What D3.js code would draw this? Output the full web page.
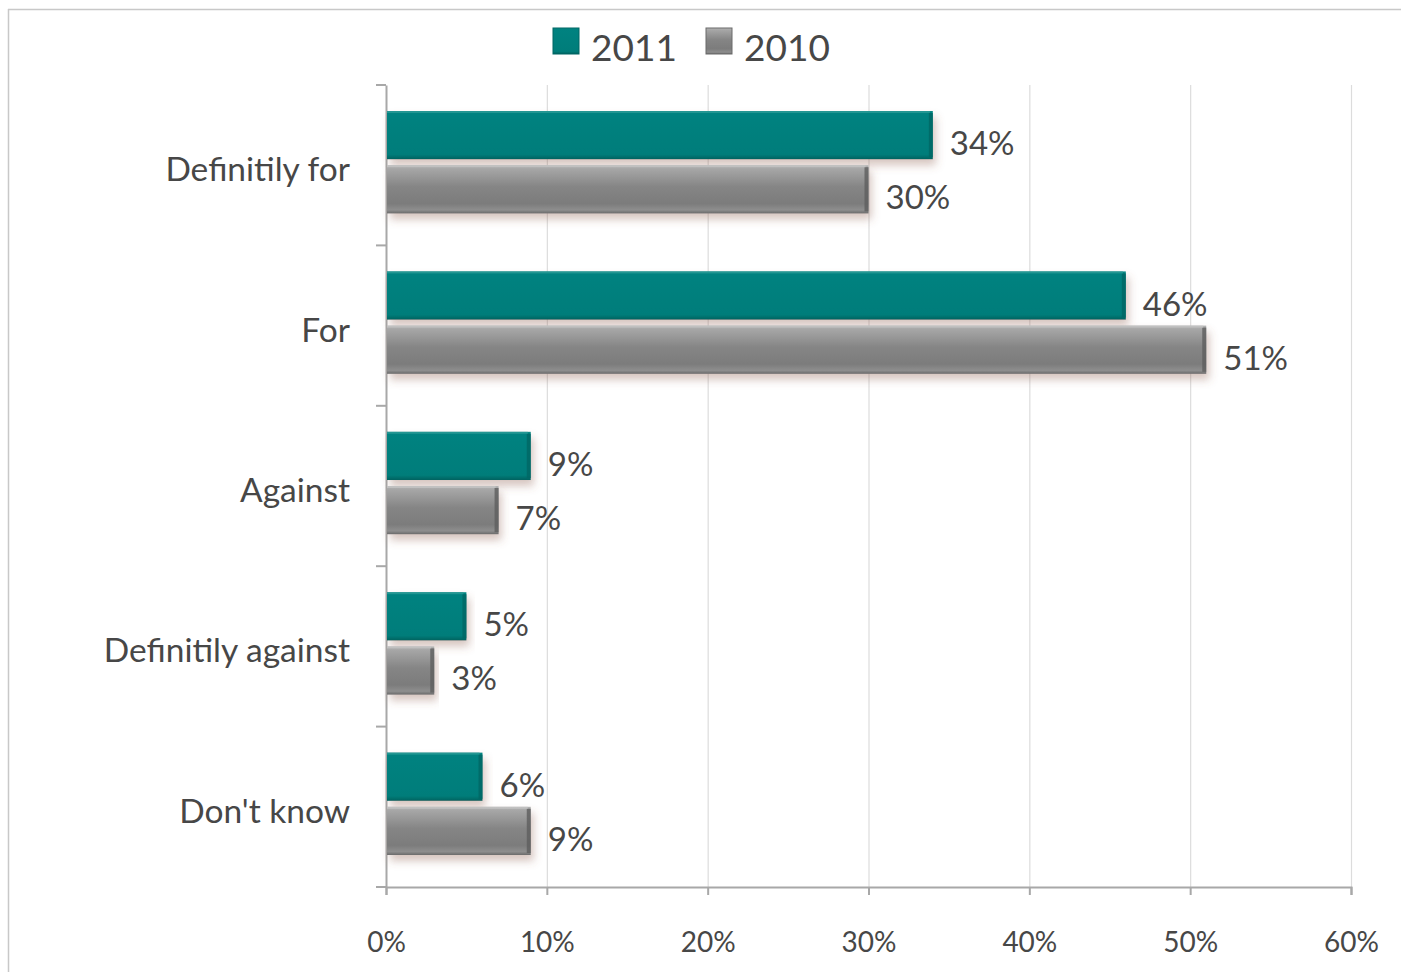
<!DOCTYPE html>
<html><head><meta charset="utf-8">
<script src="https://cdn.jsdelivr.net/npm/d3@7"></script>
<style>
html,body{margin:0;padding:0;background:#fff;}
svg{display:block;}
text{font-family:Lato,"Open Sans",sans-serif;fill:#474747;}
</style></head><body>
<svg id="c" width="1401" height="972"></svg>
<script>
const categories = ["Definitily for","For","Against","Definitily against","Don't know"];
const series = ["2011","2010"];
const values2011 = [34,46,9,5,6];
const values2010 = [30,51,7,3,9];
const xTicks = [0,10,20,30,40,50,60];

const svg = d3.select("#c");
const W = 1401, H = 972;
const m = {left:386, right:1351, top:85, bottom:887};

// frame
svg.append("line").attr("x1",8).attr("x2",W).attr("y1",9.5).attr("y2",9.5).attr("stroke","#c8c8c8").attr("stroke-width",1.5);
svg.append("line").attr("x1",8.5).attr("x2",8.5).attr("y1",9).attr("y2",H).attr("stroke","#c8c8c8").attr("stroke-width",1.5);

const defs = svg.append("defs");
const gGray = defs.append("linearGradient").attr("id","gGray").attr("x1",0).attr("y1",0).attr("x2",0).attr("y2",1);
[[0,"#b4b4b4"],[0.08,"#a6a6a6"],[0.45,"#858585"],[0.8,"#7c7c7c"],[0.93,"#8e8e8e"],[1,"#6a6a6a"]].forEach(s=>gGray.append("stop").attr("offset",s[0]).attr("stop-color",s[1]));
const gTeal = defs.append("linearGradient").attr("id","gTeal").attr("x1",0).attr("y1",0).attr("x2",0).attr("y2",1);
[[0,"#0a8a86"],[0.06,"#008280"],[0.9,"#007d7a"],[1,"#00625f"]].forEach(s=>gTeal.append("stop").attr("offset",s[0]).attr("stop-color",s[1]));
const f = defs.append("filter").attr("id","sh").attr("x","-5%").attr("y","-20%").attr("width","115%").attr("height","160%");
f.append("feDropShadow").attr("dx",3).attr("dy",6).attr("stdDeviation",4).attr("flood-color","#8a5a4a").attr("flood-opacity",0.35);

const x = d3.scaleLinear().domain([0,60]).range([m.left,m.right]);
const y = d3.scaleBand().domain(categories).range([m.top,m.bottom]).paddingInner(0).paddingOuter(0);
const inner = d3.scaleBand().domain(series).range([26,y.bandwidth()-32]).paddingInner(0.11);

// gridlines
svg.append("g").selectAll("line").data(xTicks.slice(1)).join("line")
  .attr("x1",d=>x(d)+0.5).attr("x2",d=>x(d)+0.5).attr("y1",m.top).attr("y2",m.bottom)
  .attr("stroke","#dcdcdc").attr("stroke-width",1.2);

// x axis
const xAxis = d3.axisBottom(x).tickValues(xTicks).tickFormat(d=>d+"%").tickSize(8).tickPadding(37);
const gx = svg.append("g").attr("transform",`translate(0,${m.bottom})`).call(xAxis);
gx.select(".domain").attr("stroke","#a8a8a8").attr("stroke-width",2);
gx.selectAll(".tick line").attr("stroke","#a8a8a8").attr("stroke-width",2);
gx.selectAll(".tick text").attr("font-size",28).attr("fill","#474747").style("font-family","Lato");

// y axis
const yAxis = d3.axisLeft(y).tickSize(0).tickFormat("");
const gy = svg.append("g").attr("transform",`translate(${m.left},0)`).call(yAxis);
gy.select(".domain").attr("stroke","#a8a8a8").attr("stroke-width",2);
svg.append("g").selectAll("line").data(categories.map(c=>y(c)).concat([m.bottom])).join("line")
  .attr("x1",m.left-10).attr("x2",m.left).attr("y1",d=>d).attr("y2",d=>d)
  .attr("stroke","#a8a8a8").attr("stroke-width",2);

// category labels
svg.append("g").selectAll("text").data(categories).join("text")
  .attr("x",350).attr("y",d=>y(d)+y.bandwidth()/2+3)
  .attr("text-anchor","end").attr("dominant-baseline","central")
  .attr("font-size",33.5).text(d=>d);

// bars
const rows = [];
categories.forEach((c,i)=>{
  rows.push({c, s:"2011", v:values2011[i]});
  rows.push({c, s:"2010", v:values2010[i]});
});
const bars = svg.append("g");
bars.selectAll("rect.bar").data(rows).join("rect").attr("class","bar")
  .attr("x",x(0)+1).attr("y",d=>y(d.c)+inner(d.s))
  .attr("width",d=>x(d.v)-x(0)-1).attr("height",inner.bandwidth())
  .attr("fill",d=>d.s==="2011"?"url(#gTeal)":"url(#gGray)")
  .attr("filter","url(#sh)");
// bevel right edge
bars.selectAll("rect.edge").data(rows).join("rect").attr("class","edge")
  .attr("x",d=>x(d.v)-4).attr("y",d=>y(d.c)+inner(d.s)+2)
  .attr("width",4).attr("height",inner.bandwidth()-4)
  .attr("fill",d=>d.s==="2011"?"#006764":"#5e5e5e").attr("opacity",0.8);
// top highlight
bars.selectAll("rect.hl").data(rows).join("rect").attr("class","hl")
  .attr("x",x(0)+1).attr("y",d=>y(d.c)+inner(d.s))
  .attr("width",d=>x(d.v)-x(0)-4).attr("height",2)
  .attr("fill",d=>d.s==="2011"?"#2a9a96":"#c4c4c4").attr("opacity",0.8);

// value labels
svg.append("g").selectAll("text").data(rows).join("text")
  .attr("x",d=>x(d.v)+17).attr("y",d=>y(d.c)+inner(d.s)+inner.bandwidth()/2+7)
  .attr("dominant-baseline","central").attr("font-size",33)
  .text(d=>d.v+"%");

// legend
const legend = svg.append("g");
const leg = [{s:"2011",x:553,fill:"url(#gTeal)"},{s:"2010",x:706,fill:"url(#gGray)"}];
legend.selectAll("rect").data(leg).join("rect")
  .attr("x",d=>d.x).attr("y",28).attr("width",26).attr("height",26)
  .attr("fill",d=>d.fill).attr("stroke",d=>d.s==="2011"?"#006764":"#6a6a6a").attr("stroke-width",1);
legend.selectAll("text").data(leg).join("text")
  .attr("x",d=>d.x+38).attr("y",46).attr("dominant-baseline","central")
  .attr("font-size",37).text(d=>d.s);
</script>
</body></html>
